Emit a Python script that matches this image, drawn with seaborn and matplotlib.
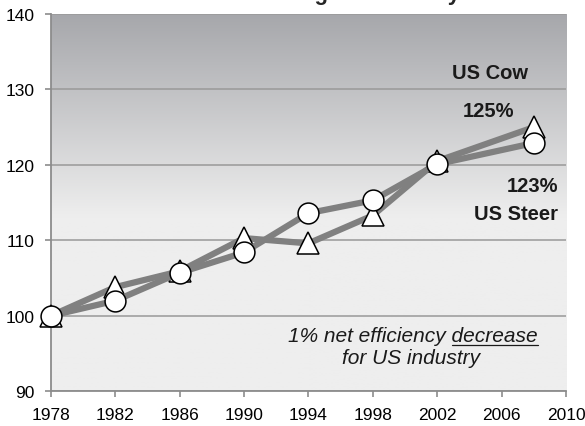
#! /usr/bin/env python3
'''
Relative weight index of US cows and steers, 1978-2008
'''
import numpy as np
import pandas as pd
import seaborn as sns
import matplotlib.pyplot as plt
from matplotlib.transforms import offset_copy

# data
years = [1978, 1982, 1986, 1990, 1994, 1998, 2002, 2008]
steer = [100.0, 102.0, 105.7, 108.4, 113.6, 115.3, 120.1, 122.9]
cow = [100.0, 103.8, 105.9, 110.3, 109.6, 113.3, 120.5, 125.0]
xticks = list(range(1978, 2011, 4))
yticks = list(range(90, 141, 10))

sns.set_style('white')
plt.rcParams['font.family'] = ['Liberation Sans', 'DejaVu Sans']

fig, ax = plt.subplots(figsize=(5.85, 4.27), dpi=100)
fig.subplots_adjust(left=0.0867, right=0.9675, bottom=0.0813, top=0.9649)

# gradient background (dark at top, light below ~113)
yy = np.linspace(90, 140, 300)
frac = np.clip((yy - 113) / 27.0, 0, 1)
top = np.array([166, 167, 171]) / 255.0
low = np.array([238, 238, 238]) / 255.0
img = low[None, :] + frac[:, None] * (top - low)[None, :]
ax.imshow(img[:, None, :], extent=[1978, 2010, 90, 140], origin='lower', aspect='auto', zorder=0)

df = pd.DataFrame({'year': years, 'cow': cow, 'steer': steer})
line_kws = dict(color='#808080', linewidth=4.5, markerfacecolor='white',
                markeredgecolor='black', markeredgewidth=1.1, clip_on=False)
sns.lineplot(data=df, x='year', y='cow', ax=ax, marker='^', markersize=16, zorder=3, **line_kws)
sns.lineplot(data=df, x='year', y='steer', ax=ax, marker='o', markersize=15, zorder=4, **line_kws)

ax.set_xlim(1978, 2010)
ax.set_ylim(90, 140)
ax.set_xticks(xticks)
ax.set_yticks(yticks)
ax.set_xlabel('')
ax.set_ylabel('')
ax.set_axisbelow(True)
ax.yaxis.grid(True, color='#999999', linewidth=1.1)
ax.xaxis.grid(False)
for s in ['top', 'right']:
    ax.spines[s].set_visible(False)
for s in ['left', 'bottom']:
    ax.spines[s].set_color('#8c8c8c')
    ax.spines[s].set_linewidth(1.3)
ax.tick_params(axis='both', bottom=True, left=True, direction='out', length=4.5,
               width=1.2, color='#8c8c8c', labelsize=12.5, labelcolor='black', pad=7)

# labels
bold = dict(fontsize=14.5, fontweight='bold', color='#1a1a1a', zorder=6)
ax.text(2005.3, 132.2, 'US Cow', ha='center', va='center', **bold)
ax.text(2005.2, 127.2, '125%', ha='center', va='center', **bold)
ax.text(2009.5, 117.3, '123%', ha='right', va='center', **bold)
ax.text(2009.5, 113.6, 'US Steer', ha='right', va='center', **bold)

ital = dict(fontsize=15, style='italic', color='#1a1a1a', zorder=6)
t1 = ax.text(2000.5, 96.6, '1% net efficiency decrease', ha='center', va='baseline', **ital)
ax.text(2000.4, 93.7, 'for US industry', ha='center', va='baseline', **ital)

# underline the word "decrease"
fig.canvas.draw()
r = fig.canvas.get_renderer()
bb = t1.get_window_extent(r)
tmp = ax.text(0, 0, 'decrease', **ital)
wb = tmp.get_window_extent(r).width
tmp.remove()
x0 = ax.transData.inverted().transform((bb.x1 - wb, 0))[0]
x1 = ax.transData.inverted().transform((bb.x1, 0))[0]
ax.plot([x0, x1], [96.6, 96.6], color='#1a1a1a', linewidth=0.9,
        transform=offset_copy(ax.transData, fig=fig, y=-2.2, units='points'), zorder=6)

# title, cut off by the top edge as in the source (only descenders show)
fig.text(0.549, 1.0, 'Carcass Weight Efficiency', fontsize=16, fontweight='bold',
         ha='center', va='baseline')

plt.savefig('out.png', dpi=100)
